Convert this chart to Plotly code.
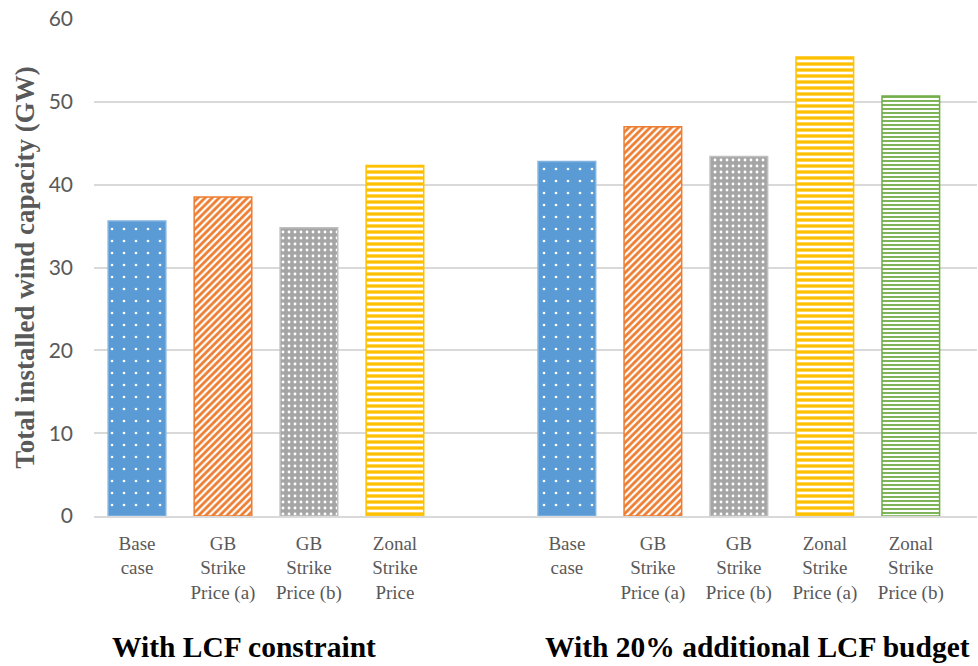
import plotly.graph_objects as go

# Installed wind capacity (GW) by scheme
lcf_labels = ["Base<br>case", "GB<br>Strike<br>Price (a)", "GB<br>Strike<br>Price (b)",
              "Zonal<br>Strike<br>Price"]
lcf_values = [35.6, 38.5, 34.8, 42.3]

extra_labels = ["Base<br>case", "GB<br>Strike<br>Price (a)", "GB<br>Strike<br>Price (b)",
                "Zonal<br>Strike<br>Price (a)", "Zonal<br>Strike<br>Price (b)"]
extra_values = [42.8, 47.0, 43.4, 55.4, 50.7]

group_titles = ["With LCF constraint", "With 20% additional LCF budget"]

# fill style per scheme (index within each group)
styles = [
    dict(line="#7fb2e0", shape=".", fg="#ffffff", bg="#5b9bd5", size=12, solidity=0.04),
    dict(line="#ed7d31", shape="/", fg="#ed7d31", bg="#ffffff", size=5, solidity=0.55),
    dict(line="#bfbfbf", shape=".", fg="#ffffff", bg="#a5a5a5", size=6, solidity=0.18),
    dict(line="#ffc000", shape="-", fg="#ffc000", bg="#ffffff", size=6, solidity=0.55),
    dict(line="#70ad47", shape="-", fg="#70ad47", bg="#ffffff", size=4, solidity=0.45),
]

# x slots: first group, one empty slot, second group
x_lcf = list(range(len(lcf_values)))
x_extra = [len(lcf_values) + 1 + i for i in range(len(extra_values))]

fig = go.Figure()

def add_bar(x, y, st):
    fig.add_trace(go.Bar(
        x=[x], y=[y], width=0.67,
        marker=dict(
            color=st["bg"],
            line=dict(color=st["line"], width=1.5),
            pattern=dict(shape=st["shape"], fgcolor=st["fg"], bgcolor=st["bg"],
                         size=st["size"], solidity=st["solidity"], fillmode="replace"),
        ),
        showlegend=False, hoverinfo="y",
    ))

for i, (x, v) in enumerate(zip(x_lcf, lcf_values)):
    add_bar(x, v, styles[i])
for i, (x, v) in enumerate(zip(x_extra, extra_values)):
    add_bar(x, v, styles[i])

serif = "Liberation Serif, Times New Roman, serif"

fig.update_layout(
    width=978, height=666,
    margin=dict(l=94, r=1, t=19, b=150),
    paper_bgcolor="white", plot_bgcolor="white",
    barmode="overlay",
    xaxis=dict(
        range=[-0.5, 9.77],
        tickmode="array",
        tickvals=x_lcf + x_extra,
        ticktext=lcf_labels + extra_labels,
        tickfont=dict(family=serif, size=19, color="#595959"),
        showgrid=False, zeroline=False,
        showline=True, linecolor="#d9d9d9", linewidth=1.5,
        ticks="", ticklabelstandoff=9,
        fixedrange=True,
    ),
    yaxis=dict(
        range=[0, 60], dtick=10,
        tickfont=dict(family="Lato, sans-serif", size=21, color="#595959"),
        showgrid=True, gridcolor="#d9d9d9", gridwidth=1.5,
        zeroline=False, showline=False,
        ticks="", ticklabelstandoff=20,
        title=dict(text="<b>Total installed wind capacity (GW)</b>",
                   font=dict(family=serif, size=27, color="#595959"),
                   standoff=6),
        fixedrange=True,
    ),
)

group_x = [1.25, 7.215]
for gx, title in zip(group_x, group_titles):
    fig.add_annotation(
        x=gx, xref="x", y=-0.2636, yref="paper",
        text=f"<b>{title}</b>", showarrow=False,
        xanchor="center", yanchor="middle",
        font=dict(family=serif, size=29.5, color="#000000"),
    )

fig.write_html("out.html")
